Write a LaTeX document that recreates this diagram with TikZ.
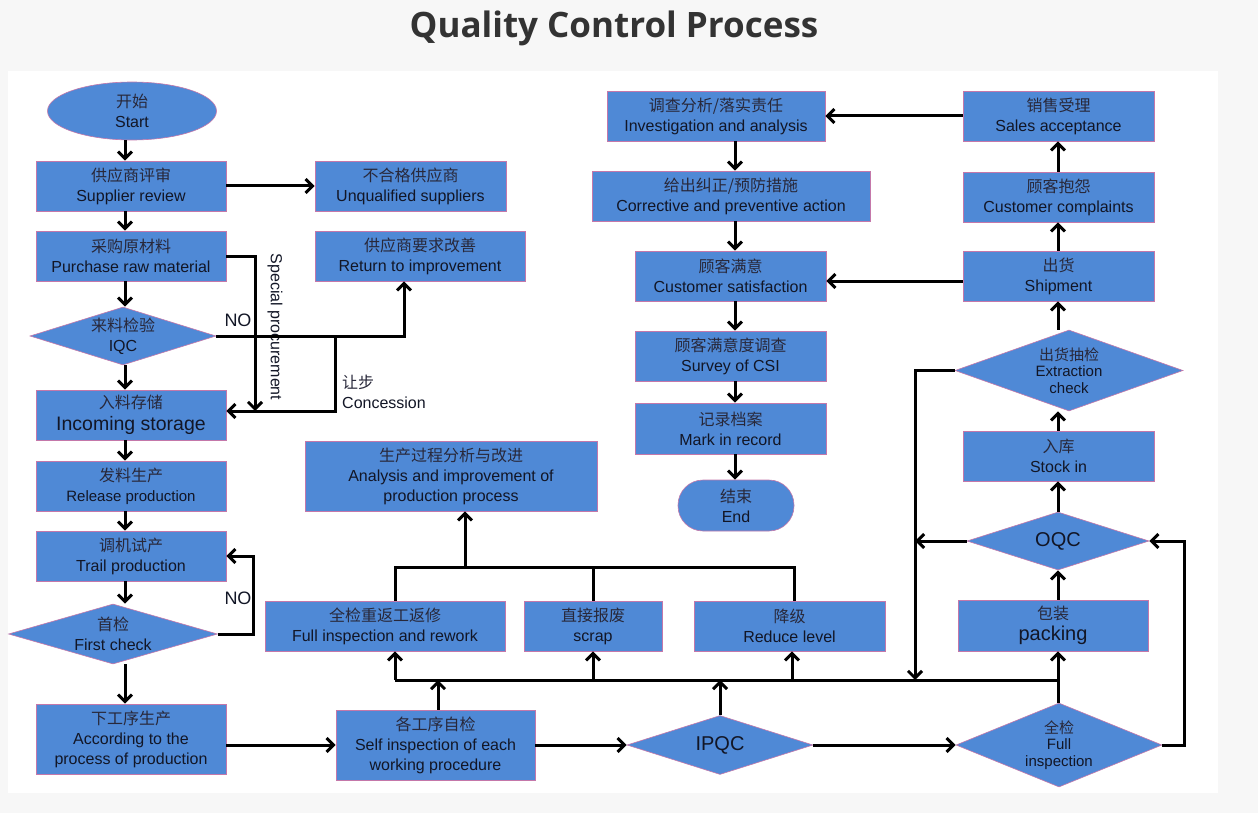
\documentclass[tikz,border=0pt]{standalone}
\usepackage{fontspec}
\setmainfont{Liberation Sans}
\newfontfamily\cjk{Noto Sans CJK SC}
\newfontfamily\titlefont{Open Sans}
\usetikzlibrary{shapes.geometric,arrows.meta}

\definecolor{qblue}{RGB}{79,137,214}
\definecolor{qedge}{RGB}{196,120,170}
\definecolor{qink}{RGB}{18,22,38}
\definecolor{qcjk}{RGB}{40,40,58}
\definecolor{pagegray}{RGB}{247,247,247}
\definecolor{titlegray}{RGB}{51,51,51}

\newcommand{\zh}[1]{{\cjk\color{qcjk}#1}}

\begin{document}
\begin{tikzpicture}[x=1pt,y=-1pt,
  box/.style={rectangle,fill=qblue,draw=qedge,line width=0.6pt,inner sep=0pt,align=center,text=qink,font=\fontsize{16}{20}\selectfont},
  dec/.style={diamond,fill=qblue,draw=qedge,line width=0.6pt,inner sep=0pt},
  dectext/.style={align=center,text=qink,inner sep=0pt,font=\fontsize{16}{20}\selectfont},
  arr/.style={line width=3pt,-{Straight Barb[length=7pt,width=14pt]}},
  ln/.style={line width=3pt},
  note/.style={text=qink,inner sep=0pt,font=\fontsize{16}{20}\selectfont}]

% page and title
\fill[pagegray] (0,0) rectangle (1258,813);
\fill[white] (8,71) rectangle (1218,793);
\node[text=titlegray,font=\titlefont\bfseries\fontsize{35}{40}\selectfont] (title) at (614,28) {Quality Control Process};

% left column
\node[ellipse,fill=qblue,draw=qedge,line width=0.6pt,inner sep=0pt,minimum width=169pt,minimum height=58pt,align=center,text=qink,font=\fontsize{16}{20}\selectfont] (start) at (132,111) {\zh{开始}\\Start};
\node[box,minimum width=190pt,minimum height=50pt] (sup) at (131,186) {\zh{供应商评审}\\Supplier review};
\node[box,minimum width=190pt,minimum height=50pt] (buy) at (131,256) {\zh{采购原材料}\\Purchase raw material};
\node[dec,minimum width=186pt,minimum height=58pt,label={[dectext]center:{\zh{来料检验}\\IQC}}] (iqc) at (123,336) {};
\node[box,minimum width=190pt,minimum height=50pt] (store) at (131,415) {\zh{入料存储}\\[2pt]{\fontsize{19.5}{22}\selectfont Incoming storage}};
\node[box,minimum width=190pt,minimum height=50pt] (release) at (131,486) {\zh{发料生产}\\{\fontsize{15}{20}\selectfont Release production}};
\node[box,minimum width=190pt,minimum height=50pt] (trial) at (131,556) {\zh{调机试产}\\Trail production};
\node[dec,minimum width=209pt,minimum height=60pt,label={[dectext]center:{\zh{首检}\\First check}}] (chk1) at (113,634) {};
\node[box,minimum width=190pt,minimum height=70pt] (next) at (131,739) {\zh{下工序生产}\\According to the\\process of production};

% supplier side
\node[box,minimum width=191pt,minimum height=50pt] (unq) at (410.5,186) {\zh{不合格供应商}\\Unqualified suppliers};
\node[box,minimum width=210pt,minimum height=50pt] (ret) at (420,256) {\zh{供应商要求改善}\\Return to improvement};

% production row
\node[box,minimum width=199pt,minimum height=70pt] (selfchk) at (435.5,745) {\zh{各工序自检}\\Self inspection of each\\working procedure};
\node[dec,minimum width=186pt,minimum height=59pt,label={[dectext,font=\fontsize{20}{24}\selectfont]center:IPQC}] (ipqc) at (720,745) {};
\node[box,minimum width=240pt,minimum height=50pt] (rework) at (385,626) {\zh{全检重返工返修}\\Full inspection and rework};
\node[box,minimum width=138pt,minimum height=50pt] (scrap) at (593,626) {\zh{直接报废}\\scrap};
\node[box,minimum width=191pt,minimum height=50pt] (reduce) at (789.5,626) {\zh{降级}\\Reduce level};
\node[box,minimum width=292pt,minimum height=70pt] (analysis) at (451,476) {\zh{生产过程分析与改进}\\Analysis and improvement of\\production process};

% customer column
\node[box,minimum width=218pt,minimum height=50pt] (invest) at (716,116) {\zh{调查分析/落实责任}\\Investigation and analysis};
\node[box,minimum width=278pt,minimum height=50pt] (correct) at (731,196) {\zh{给出纠正/预防措施}\\Corrective and preventive action};
\node[box,minimum width=191pt,minimum height=50pt] (satisf) at (730.5,276) {\zh{顾客满意}\\Customer satisfaction};
\node[box,minimum width=191pt,minimum height=50pt] (survey) at (730.5,356) {\zh{顾客满意度调查}\\Survey of CSI};
\node[box,minimum width=191pt,minimum height=51pt] (record) at (730.5,428.5) {\zh{记录档案}\\Mark in record};
\node[box,rounded corners=25pt,minimum width=116pt,minimum height=51pt] (endn) at (736,505.5) {\zh{结束}\\End};

% shipping column
\node[box,minimum width=191pt,minimum height=50pt] (sales) at (1058.5,116) {\zh{销售受理}\\Sales acceptance};
\node[box,minimum width=191pt,minimum height=50pt] (compl) at (1058.5,197) {\zh{顾客抱怨}\\Customer complaints};
\node[box,minimum width=191pt,minimum height=50pt] (ship) at (1058.5,276) {\zh{出货}\\Shipment};
\node[dec,minimum width=228pt,minimum height=81pt,label={[dectext,font=\fontsize{15}{16.5}\selectfont]center:{\zh{出货抽检}\\Extraction\\check}}] (extr) at (1069,370.5) {};
\node[box,minimum width=191pt,minimum height=50pt] (stockin) at (1058.5,456) {\zh{入库}\\Stock in};
\node[dec,minimum width=182pt,minimum height=58pt,label={[dectext,font=\fontsize{20}{24}\selectfont]center:OQC}] (oqc) at (1058,541) {};
\node[box,minimum width=190pt,minimum height=51pt] (pack) at (1053,625.5) {\zh{包装}\\[1pt]{\fontsize{20}{22}\selectfont packing}};
\node[dec,minimum width=206pt,minimum height=84pt,label={[dectext,font=\fontsize{15}{16.5}\selectfont]center:{\zh{全检}\\Full\\inspection}}] (fullchk) at (1059,745) {};

% labels
\node[note,font=\fontsize{18}{20}\selectfont] (no1) at (238,320) {NO};
\node[note,font=\fontsize{18}{20}\selectfont] (no2) at (238,598) {NO};
\node[note,rotate=-90] (spec) at (275,327) {Special procurement};
\node[note,align=left,anchor=west] (conc) at (342,392) {\zh{让步}\\Concession};

% left column flow
\coordinate (colL) at (125,0);
\foreach \a/\b in {start/sup,sup/buy,buy/iqc,iqc/store,store/release,release/trial,trial/chk1,chk1/next}
  \draw[arr] (\a.south -| colL) -- (\b.north -| colL);
\draw[arr] (sup.east) -- (unq.west);
\coordinate (spend) at (255,411);
\draw[arr] (buy.east) -| (spend);
\draw[arr] (iqc.east) -| ([xshift=-16pt]ret.south);
\coordinate (concA) at (335,336);
\draw[arr] (concA) |- ([yshift=4pt]store.east);
\draw[arr] (chk1.east) -- ++(36,0) |- (trial.east);

% production row
\draw[arr] (next.east |- selfchk.west) -- (selfchk.west);
\draw[arr] (selfchk.east) -- (ipqc.west);
\draw[arr] (ipqc.east) -- (fullchk.west);
\coordinate (busL) at (395,680);
\coordinate (busR) at (1058,680);
\draw[ln] (busL) -- (busR);
\draw[arr] (busL) -- (rework.south -| busL);
\draw[arr] (scrap.south |- busL) -- (scrap.south);
\draw[arr] ([xshift=2.5pt]reduce.south |- busL) -- ([xshift=2.5pt]reduce.south);
\draw[arr] ([xshift=2.5pt]selfchk.north) -- ([xshift=2.5pt]selfchk.north |- busL);
\draw[arr] (ipqc.north) -- (ipqc.north |- busL);
\coordinate (ubusL) at (395,567);
\coordinate (ubusR) at (794,567);
\coordinate (up) at (465,567);
\draw[ln] (rework.north -| ubusL) -- (ubusL) -- (ubusR) -- (reduce.north -| ubusR);
\draw[ln] (scrap.north) -- (scrap.north |- ubusL);
\draw[arr] (up) -- (analysis.south -| up);

% shipping and customer side
\coordinate (colR) at (1058,0);
\draw[arr] (fullchk.north -| colR) -- (pack.south -| colR);
\draw[arr] (pack.north -| colR) -- (oqc.south -| colR);
\foreach \a/\b in {oqc/stockin,stockin/extr,extr/ship,ship/compl,compl/sales}
  \draw[arr] (\a.north -| colR) -- (\b.south -| colR);
\draw[arr] (fullchk.east) -- ++(22,0) |- (oqc.east);
\coordinate (dropR) at (915,680);
\draw[arr] (extr.west) -| (dropR);
\draw[arr] (oqc.west) -- (oqc.west -| dropR);
\draw[arr] (sales.west) -- (invest.east);
\draw[arr] ([yshift=-5pt]ship.west) -- ([yshift=-5pt]satisf.east);
\coordinate (colM) at (735,0);
\foreach \a/\b in {invest/correct,correct/satisf,satisf/survey,survey/record,record/endn}
  \draw[arr] (\a.south -| colM) -- (\b.north -| colM);
\end{tikzpicture}
\end{document}
